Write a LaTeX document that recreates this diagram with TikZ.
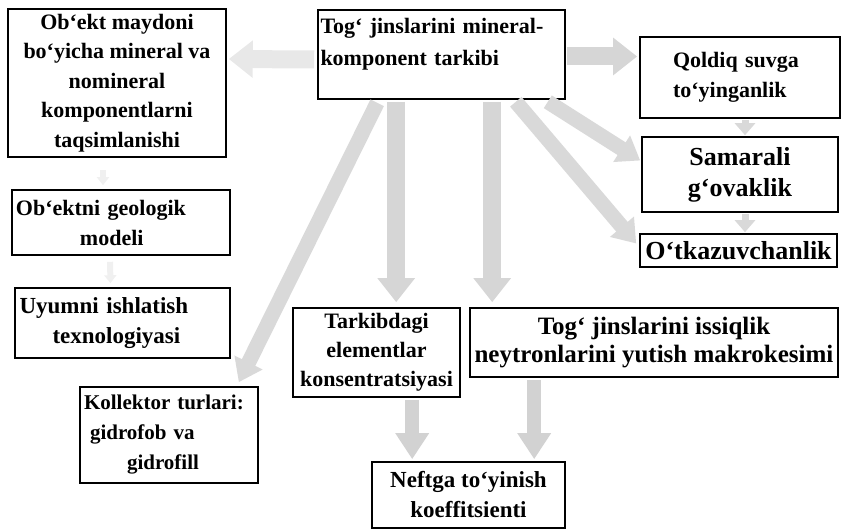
\documentclass[tikz,border=0pt]{standalone}
\usepackage{fontspec}
\setmainfont{Liberation Serif}
\usetikzlibrary{arrows.meta,calc}
\newcommand{\fsz}[2]{\fontsize{#1}{#2}\selectfont\bfseries}
\begin{document}
\begin{tikzpicture}[x=1pt,y=-1pt,
  box/.style={draw=black, line width=1.6pt, fill=white, align=center, inner sep=1pt},
  blk/.style={line width=18pt, draw=gray!32, -{Triangle[length=24pt,width=36pt]}},
  diag/.style={line width=15pt, draw=gray!30, -{Triangle[length=22pt,width=30pt]}},
  mid/.style={line width=14pt, draw=gray!35, -{Triangle[length=26pt,width=32pt]}},
  small/.style={line width=7pt, draw=gray!30, -{Triangle[length=12pt,width=20pt]}},
  faint/.style={line width=6pt, draw=gray!12, -{Triangle[length=8pt,width=12pt]}}]
\useasboundingbox (0,0) rectangle (846,529);
\node[box, font=\fsz{22}{29.5}, minimum width=218pt, minimum height=148pt] (obj) at (117,83)
  {Ob`ekt maydoni\\bo`yicha mineral va\\nomineral\\komponentlarni\\taqsimlanishi};
\node[box, font=\fsz{22}{32}, align=left, text width=242pt, minimum width=247pt, minimum height=89pt] (mc) at (441.5,54.5)
  {Tog` jinslarini mineral-\\komponent tarkibi\\[-6pt]\mbox{}};
\node[box, font=\fsz{22}{30}, minimum width=200pt, minimum height=81pt, align=left, text width=190pt] (qol) at (740,77.5)
  {\hspace*{28pt}Qoldiq suvga\\\hspace*{28pt}to`yinganlik};
\node[box, font=\fsz{26}{31}, minimum width=196pt, minimum height=75pt] (sam) at (740,174.5)
  {Samarali\\g`ovaklik};
\node[box, font=\fsz{26}{30}, minimum width=197pt, minimum height=33pt] (otk) at (738.5,250.5)
  {O`tkazuvchanlik};
\node[box, font=\fsz{22}{30}, minimum width=218pt, minimum height=65pt, align=left, text width=210pt] (geo) at (121,222.5)
  {Ob`ektni geologik\\\hspace*{64pt}modeli};
\node[box, font=\fsz{23}{30}, minimum width=215pt, minimum height=70pt, align=left, text width=210pt] (uyu) at (122.5,323)
  {\hspace*{2pt}Uyumni ishlatish\\\hspace*{35pt}texnologiyasi};
\node[box, font=\fsz{21}{30}, minimum width=178pt, minimum height=96pt, align=left, text width=170pt] (kol) at (169,435)
  {Kollektor turlari:\\\hspace*{6pt}gidrofob va\\\hspace*{43pt}gidrofill};
\node[box, font=\fsz{22}{29}, minimum width=167pt, minimum height=89pt] (tar) at (376.5,352.5)
  {Tarkibdagi\\elementlar\\konsentratsiyasi};
\node[box, font=\fsz{25}{28}, minimum width=368pt, minimum height=69pt] (tog) at (654,342.5)
  {Tog` jinslarini issiqlik\\neytronlarini yutish makrokesimi};
\node[box, font=\fsz{23}{30}, minimum width=193pt, minimum height=66pt] (nef) at (468.5,495)
  {Neftga to`yinish\\koeffitsienti};
% connectors
\draw[blk, draw=gray!18] ($(mc.west)+(-3,5)$) -- ($(obj.east)+(2,-24)$);
\draw[blk] ($(mc.east)+(1,2)$) -- ($(qol.west)+(-2,-21)$);
\draw[diag] ($(mc.south east)+(-18,2)$) -- ($(sam.west)+(-1,-14)$);
\draw[diag] ($(mc.south east)+(-50,2)$) -- ($(otk.west)+(-3,-7)$);
\draw[blk] ($(mc.south west)+(79,2)$) -- ($(tar.north west)+(104,-5)$);
\draw[blk] ($(mc.south west)+(175,2)$) -- ($(tog.north west)+(23,-5)$);
\draw[diag] ($(mc.south west)+(60,3)$) -- ($(kol.north east)+(-20,-4)$);
\draw[small] ($(qol.south)+(5,1)$) -- ($(sam.north)+(5,-1)$);
\draw[small] ($(sam.south)+(5,1)$) -- ($(otk.north)+(6.5,-1)$);
\draw[mid] ($(tar.south west)+(120,2)$) -- ($(nef.north west)+(41,-2)$);
\draw[mid] ($(tog.south west)+(65,2)$) -- ($(nef.north west)+(163,-2)$);
\draw[faint] ($(obj.south)+(-14,12)$) -- ($(geo.north)+(-18,-4)$);
\draw[faint] ($(geo.south)+(-11,6)$) -- ($(uyu.north)+(-12,-4)$);
\end{tikzpicture}
\end{document}
